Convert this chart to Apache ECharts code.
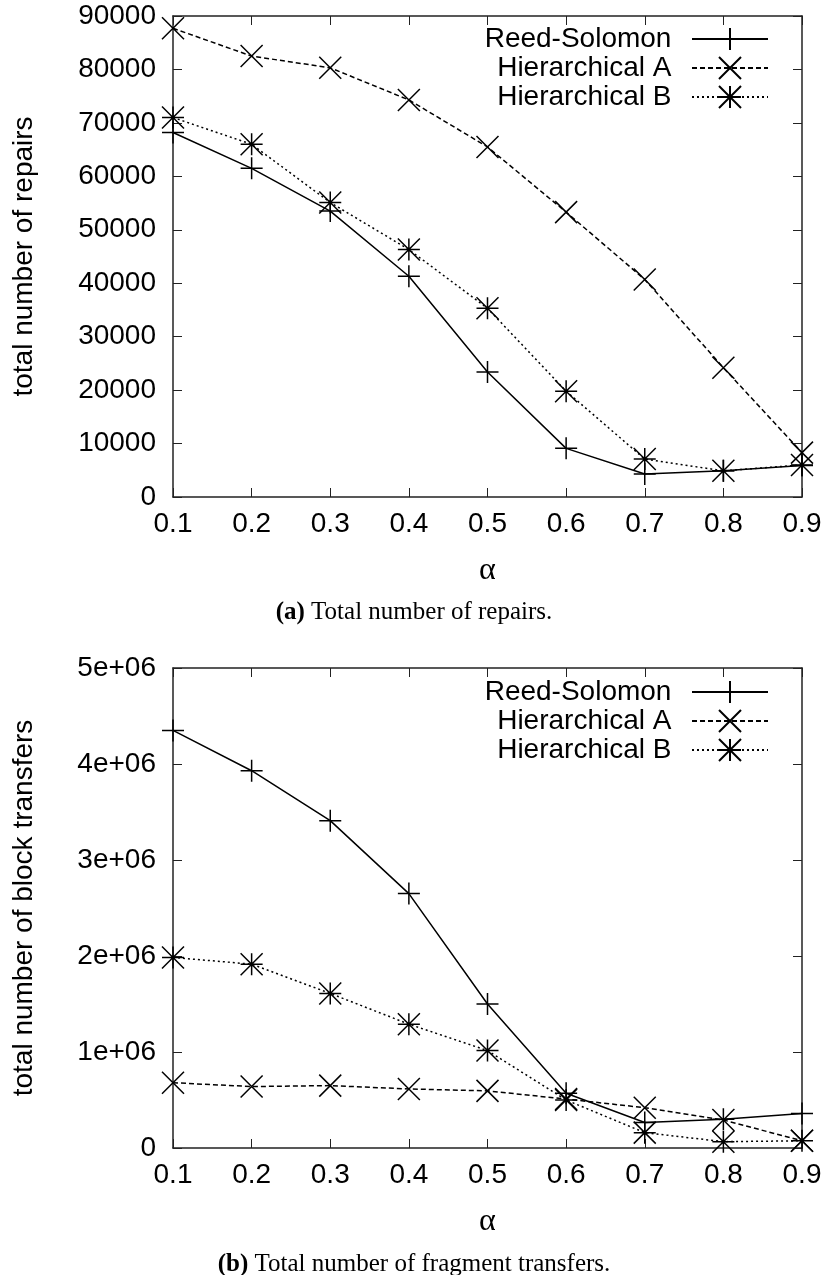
<!DOCTYPE html>
<html>
<head>
<meta charset="utf-8">
<script src="https://cdn.jsdelivr.net/npm/echarts@6/dist/echarts.min.js"></script>
<style>
  html, body { margin: 0; padding: 0; background: #fff; }
  #main { width: 828px; height: 1275px; }
</style>
</head>
<body>
<div id="main"></div>
<script>
let alphas = ['0.1', '0.2', '0.3', '0.4', '0.5', '0.6', '0.7', '0.8', '0.9'];
let names = ['Reed-Solomon', 'Hierarchical A', 'Hierarchical B'];

// (a) total number of repairs
let repairsRS = [68200, 61500, 53500, 41300, 23400, 9100, 4300, 4900, 5900];
let repairsHA = [87700, 82500, 80300, 74300, 65500, 53300, 40700, 24200, 8300];
let repairsHB = [71000, 66000, 55100, 46300, 35300, 19800, 7100, 4900, 6000];

// (b) total number of block transfers
let transfersRS = [4350000, 3930000, 3410000, 2650000, 1500000, 570000, 265000, 300000, 360000];
let transfersHA = [680000, 640000, 650000, 615000, 595000, 510000, 420000, 292000, 75000];
let transfersHB = [1985000, 1915000, 1610000, 1290000, 1015000, 500000, 160000, 66000, 75000];

let myChart = echarts.init(document.getElementById('main'));

let sans = 'Liberation Sans';
let serif = 'Liberation Serif';
let ink = '#000';

let symbols = [
    'path://M0,5L10,5M5,0L5,10',                                   // plus
    'path://M0,0L10,10M0,10L10,0',                                 // cross
    'path://M0,5L10,5M5,0L5,10M0,0L10,10M0,10L10,0'                // asterisk
];
let dashes = ['solid', [5, 3], [2, 3]];

function xAxisFor(grid, pos, withLabels) {
    return {
        type: 'category',
        gridIndex: grid,
        position: pos,
        data: alphas,
        boundaryGap: false,
        name: withLabels ? 'α' : '',
        nameLocation: 'middle',
        nameGap: 58,
        nameTextStyle: {fontFamily: serif, fontSize: 32, color: ink},
        axisLine: {show: true, onZero: false, lineStyle: {color: '#222', width: 1.5}},
        axisTick: {show: true, inside: true, length: 9, alignWithLabel: true, lineStyle: {color: '#222', width: 1}},
        axisLabel: {show: withLabels, fontFamily: sans, fontSize: 28, color: ink, margin: 13},
        splitLine: {show: false}
    };
}

function yAxisFor(grid, pos, withLabels, max, step, title, fmt) {
    return {
        type: 'value',
        gridIndex: grid,
        position: pos,
        min: 0,
        max: max,
        interval: step,
        name: withLabels ? title : '',
        nameLocation: 'middle',
        nameGap: 135,
        nameTextStyle: {fontFamily: sans, fontSize: 28, color: ink},
        axisLine: {show: true, onZero: false, lineStyle: {color: '#222', width: 1.5}},
        axisTick: {show: true, inside: true, length: 9, lineStyle: {color: '#222', width: 1}},
        axisLabel: {show: withLabels, fontFamily: sans, fontSize: 28, color: ink, margin: 17, formatter: fmt},
        splitLine: {show: false}
    };
}

function plainFmt(v) {
    return String(v);
}

function sciFmt(v) {
    return v === 0 ? '0' : (v / 1e6) + 'e+06';
}

function makeSeries(i, grid, values) {
    return {
        name: names[i],
        type: 'line',
        xAxisIndex: grid * 2,
        yAxisIndex: grid * 2,
        data: values,
        symbol: symbols[i],
        symbolSize: 22,
        showAllSymbol: true,
        color: ink,
        itemStyle: {color: ink, borderColor: ink, borderWidth: 1.5},
        lineStyle: {color: ink, width: 1.5, type: dashes[i]},
        emphasis: {disabled: true}
    };
}

function legendFor(top) {
    return {
        data: names,
        orient: 'vertical',
        align: 'right',
        right: 54,
        top: top,
        itemWidth: 76,
        itemHeight: 27.5,
        itemGap: 1,
        selectedMode: false,
        formatter: function (n) { return n + '  '; },
        textStyle: {fontFamily: sans, fontSize: 28, color: ink}
    };
}

function caption(tag, text, top) {
    return {
        text: '{b|' + tag + '}{n| ' + text + '}',
        left: 'center',
        top: top,
        textStyle: {rich: {
            b: {fontFamily: serif, fontSize: 25, fontWeight: 'bold', color: ink},
            n: {fontFamily: serif, fontSize: 25, fontWeight: 'normal', color: ink}
        }}
    };
}

option = {
    backgroundColor: '#fff',
    animation: false,
    title: [
        caption('(a)', 'Total number of repairs.', 595),
        caption('(b)', 'Total number of fragment transfers.', 1247)
    ],
    legend: [legendFor(20), legendFor(673)],
    grid: [
        {left: 173, right: 26, top: 16, height: 481, containLabel: false},
        {left: 173, right: 26, top: 668, height: 480, containLabel: false}
    ],
    xAxis: [
        xAxisFor(0, 'bottom', true),
        xAxisFor(0, 'top', false),
        xAxisFor(1, 'bottom', true),
        xAxisFor(1, 'top', false)
    ],
    yAxis: [
        yAxisFor(0, 'left', true, 90000, 10000, 'total number of repairs', plainFmt),
        yAxisFor(0, 'right', false, 90000, 10000, ''),
        yAxisFor(1, 'left', true, 5000000, 1000000, 'total number of block transfers', sciFmt),
        yAxisFor(1, 'right', false, 5000000, 1000000, '')
    ],
    series: [
        makeSeries(0, 0, repairsRS),
        makeSeries(1, 0, repairsHA),
        makeSeries(2, 0, repairsHB),
        makeSeries(0, 1, transfersRS),
        makeSeries(1, 1, transfersHA),
        makeSeries(2, 1, transfersHB)
    ]
};

myChart.setOption(option);
</script>
</body>
</html>
